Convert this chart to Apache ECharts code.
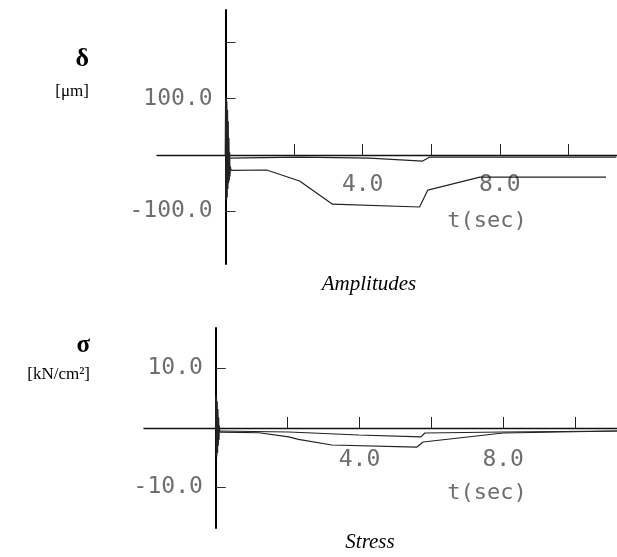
<!DOCTYPE html>
<html><head><meta charset="utf-8">
<script src="https://cdn.jsdelivr.net/npm/echarts@6/dist/echarts.min.js"></script>
<style>html,body{margin:0;padding:0;background:#fff}#c{width:617px;height:557px}</style>
</head><body><div id="c"></div>
<script>
// ---- Data ----
// Amplitudes (delta, µm) vs t (sec)
const ampSpikeT = [0, 0.01, 0.02, 0.03, 0.04, 0.05, 0.06, 0.07, 0.08, 0.09, 0.10, 0.11, 0.12, 0.13, 0.15];
const ampSpikeV = [0, 100, -80, 95, -75, 80, -60, 60, -50, 30, -45, 5, -38, -20, -27];
const ampMainT = [0.15, 1.2, 2.16, 3.12, 5.66, 5.9, 7.42, 11.1];
const ampMainV = [-27, -26.5, -46, -87, -92, -62, -39, -39];
const ampSmallT = [0.12, 2.16, 4.2, 5.75, 5.96, 11.4];
const ampSmallV = [-5.3, -3.5, -5.3, -10.6, -3.5, -3.5];
// Stress (sigma, kN/cm2) vs t (sec)
const stressSpikeT = [0, 0.01, 0.02, 0.03, 0.04, 0.05, 0.06, 0.07, 0.08, 0.09, 0.10];
const stressSpikeV = [0, 5.5, -4.8, 4.5, -4.2, 3.2, -3.0, 1.8, -2.0, 0.4, -0.7];
const stressLowT = [0.10, 1.2, 2.03, 2.3, 3.23, 5.6, 5.77, 8.0, 11.17];
const stressLowV = [-0.7, -0.8, -1.5, -1.9, -2.86, -3.2, -2.35, -0.84, -0.5];
const stressUpT = [0.08, 2.03, 3.98, 5.71, 5.82, 8.0, 11.17];
const stressUpV = [-0.5, -0.67, -1.18, -1.5, -0.84, -0.67, -0.5];
// Axis ticks / labels
const xTicks = [2, 4, 6, 8, 10];
const xLabels = [4, 8];
const ampYTicks = [-100, 100, 200];
const ampYLabels = [-100, 100];
const stressYTicks = [-10, 10];
const stressYLabels = [-10, 10];
const xRangeAmp = [-2, 11.42], yRangeAmp = [-193, 257];
const xRangeStress = [-2, 11.17], yRangeStress = [-16.8, 16.8];

const pairs = (t, v) => t.map((x, i) => [x, v[i]]);
const gray = '#6e6e6e';
const mono = 'DejaVu Sans Mono';
const grids = [
  { left: 157, top: 10, width: 460, height: 254 },
  { left: 144, top: 328, width: 473, height: 200 }
];
// offsets so that the axes cross at (0,0) inside the grid (labels follow the axis)
function zeroOffsets(g, xr, yr) {
  const xZero = g.width * (0 - xr[0]) / (xr[1] - xr[0]);
  const yZero = g.height * (yr[1] - 0) / (yr[1] - yr[0]);
  return { xOff: -(g.height - yZero), yOff: -xZero };
}
const offA = zeroOffsets(grids[0], xRangeAmp, yRangeAmp);
const offS = zeroOffsets(grids[1], xRangeStress, yRangeStress);

function xAxis(gi, r, off, margin) {
  return {
    type: 'value', gridIndex: gi, min: r[0], max: r[1], position: 'bottom', offset: off,
    axisLine: { onZero: false, lineStyle: { color: '#111', width: 1.3 } },
    axisTick: { inside: true, length: 11, customValues: xTicks, lineStyle: { color: '#222', width: 1 } },
    axisLabel: { customValues: xLabels, formatter: v => v.toFixed(1), margin: margin,
      fontFamily: mono, fontSize: 23, color: gray },
    splitLine: { show: false }
  };
}
function yAxis(gi, r, off, ticks, labels) {
  return {
    type: 'value', gridIndex: gi, min: r[0], max: r[1], position: 'left', offset: off,
    axisLine: { onZero: false, lineStyle: { color: '#000', width: 2 } },
    axisTick: { inside: true, length: 10, customValues: ticks, lineStyle: { color: '#333', width: 1 } },
    axisLabel: { customValues: labels, formatter: v => v.toFixed(1), margin: 13,
      fontFamily: mono, fontSize: 23, color: gray },
    splitLine: { show: false }
  };
}
const lineS = (xi, data, w) => ({
  type: 'line', xAxisIndex: xi, yAxisIndex: xi, data: data, showSymbol: false,
  lineStyle: { color: '#222', width: w }, silent: true
});

const chart = echarts.init(document.getElementById('c'), null, { renderer: 'canvas' });
chart.setOption({
  animation: false,
  grid: grids.map(g => Object.assign({ containLabel: false, outerBoundsMode: 'none' }, g)),
  xAxis: [xAxis(0, xRangeAmp, offA.xOff, 18), xAxis(1, xRangeStress, offS.xOff, 21)],
  yAxis: [yAxis(0, yRangeAmp, offA.yOff, ampYTicks, ampYLabels), yAxis(1, yRangeStress, offS.yOff, stressYTicks, stressYLabels)],
  series: [
    lineS(0, pairs(ampSpikeT, ampSpikeV), 1.8),
    lineS(0, pairs(ampMainT, ampMainV), 1.2),
    lineS(0, pairs(ampSmallT, ampSmallV), 1.2),
    lineS(1, pairs(stressSpikeT, stressSpikeV), 1.8),
    lineS(1, pairs(stressLowT, stressLowV), 1.2),
    lineS(1, pairs(stressUpT, stressUpV), 1.2)
  ],
  graphic: [
    { type: 'text', style: { text: 'δ', x: 89, y: 59, align: 'right', verticalAlign: 'middle',
      font: 'bold 26px "Liberation Serif"', fill: '#000' } },
    { type: 'text', style: { text: '[μm]', x: 89, y: 92, align: 'right', verticalAlign: 'middle',
      font: '17px "Liberation Serif"', fill: '#000' } },
    { type: 'text', style: { text: 'σ', x: 90, y: 346, align: 'right', verticalAlign: 'middle',
      font: 'bold 25px "Liberation Serif"', fill: '#000' } },
    { type: 'text', style: { text: '[kN/cm²]', x: 90, y: 375, align: 'right', verticalAlign: 'middle',
      font: '17px "Liberation Serif"', fill: '#000' } },
    { type: 'text', style: { text: 'Amplitudes', x: 369, y: 284, align: 'center', verticalAlign: 'middle',
      font: 'italic 21px "Liberation Serif"', fill: '#000' } },
    { type: 'text', style: { text: 'Stress', x: 370, y: 542, align: 'center', verticalAlign: 'middle',
      font: 'italic 21px "Liberation Serif"', fill: '#000' } },
    { type: 'text', style: { text: 't(sec)', x: 487, y: 221, align: 'center', verticalAlign: 'middle',
      font: '22px "DejaVu Sans Mono"', fill: gray } },
    { type: 'text', style: { text: 't(sec)', x: 487, y: 493, align: 'center', verticalAlign: 'middle',
      font: '22px "DejaVu Sans Mono"', fill: gray } }
  ]
});
</script>
</body></html>
